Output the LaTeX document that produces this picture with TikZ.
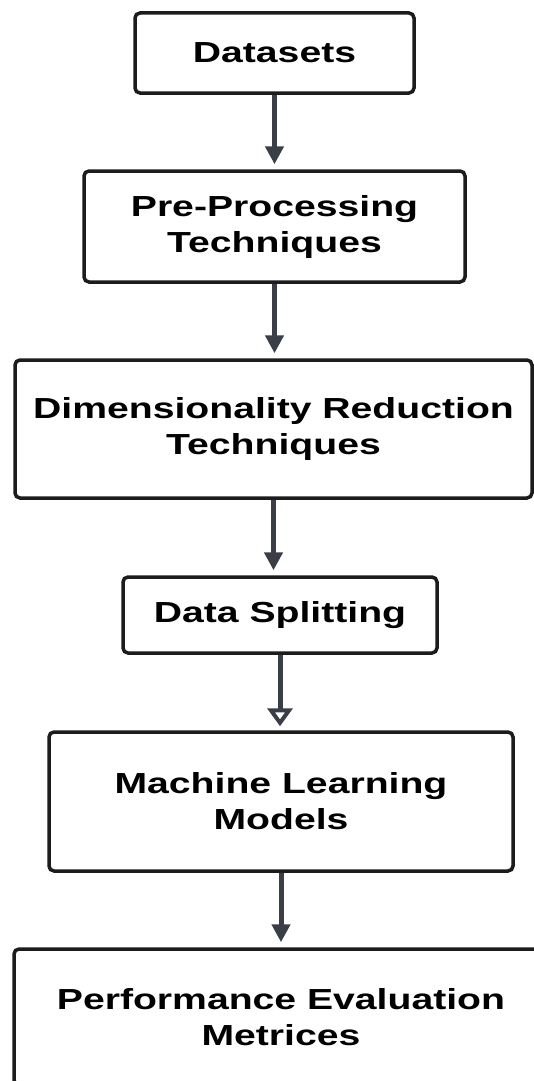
\documentclass[tikz,border=0pt]{standalone}
\usepackage{fontspec}
\setmainfont{Liberation Sans}
\newfontfamily\boxfont{Liberation Sans}[FakeStretch=1.35]
\usetikzlibrary{arrows.meta}
\definecolor{arrowgray}{HTML}{3A3E47}
\definecolor{boxline}{HTML}{1C1C1C}
\begin{document}
\begin{tikzpicture}[x=1pt,y=-1pt,
  flowbox/.style={draw=boxline, line width=3.5pt, rounded corners=5pt, fill=white,
    align=center, inner sep=0pt,
    font=\boxfont\bfseries\fontsize{29}{36}\selectfont},
  flowarrow/.style={draw=arrowgray, line width=5pt,
    -{Triangle[length=18pt,width=18pt]}, shorten >=5pt},
  openarrow/.style={draw=arrowgray, line width=5pt,
    -{Triangle[open,length=18pt,width=25pt,line width=4pt,fill=white]}, shorten >=4pt}]
\path[use as bounding box] (0,0) rectangle (534,1081);
\clip (0,0) rectangle (534,1081);
\fill[white] (0,0) rectangle (534,1081);

\node[flowbox, minimum width=279pt, minimum height=80pt] (ds) at (274.5,53) {Datasets};
\node[flowbox, minimum width=381pt, minimum height=111pt] (pp) at (274.5,226.5) {Pre-Processing\\Techniques};
\node[flowbox, minimum width=517pt, minimum height=138pt] (dr) at (273.5,429) {Dimensionality Reduction\\Techniques};
\node[flowbox, minimum width=314pt, minimum height=76pt] (sp) at (280,615) {Data Splitting};
\node[flowbox, minimum width=464pt, minimum height=139pt] (ml) at (281,801.5) {Machine Learning\\Models};
\node[flowbox, minimum width=534pt, minimum height=136pt] (pe) at (281,1017) {Performance Evaluation\\Metrices};

\draw[flowarrow] (ds.south) -- (ds.south |- pp.north);
\draw[flowarrow] (pp.south) -- (pp.south |- dr.north);
\draw[flowarrow] (dr.south) -- (dr.south |- sp.north);
\draw[openarrow] (sp.south) -- (sp.south |- ml.north);
\draw[flowarrow] (ml.south) -- (ml.south |- pe.north);
\end{tikzpicture}
\end{document}
